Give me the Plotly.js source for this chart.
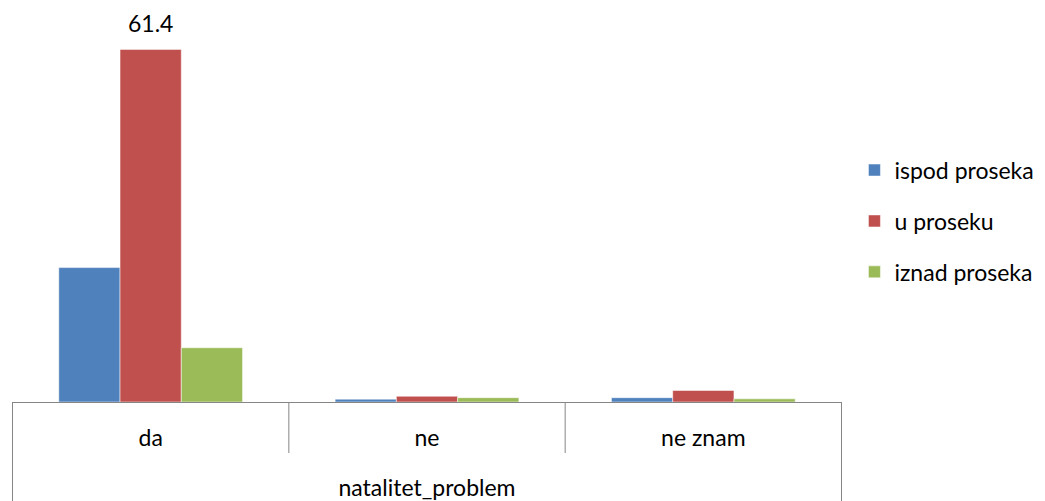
<!DOCTYPE html>
<html>
<head>
<meta charset="utf-8">
<script src="https://cdn.plot.ly/plotly-3.0.1.min.js"></script>
<style>html,body{margin:0;padding:0;background:#fff;}#chart{width:1045px;height:501px;}</style>
</head>
<body>
<div id="chart"></div>
<script>
const categories = ['da', 'ne', 'ne znam'];
const seriesNames = ['ispod proseka', 'u proseku', 'iznad proseka'];
const ispodProseka = [23.4, 0.5, 0.75];
const uProseku = [61.4, 1.0, 2.0];
const iznadProseka = [9.45, 0.75, 0.55];
const axisTitle = 'natalitet_problem';
const colors = ['#4F81BD', '#C0504D', '#9BBB59'];

const FONT = 'Lato, "Open Sans", sans-serif';
const FS = 23;
const values = [ispodProseka, uProseku, iznadProseka];
const traces = values.map((v, i) => ({
  type: 'bar', name: seriesNames[i], x: categories, y: v, legendgroup: 'g' + i,
  marker: {color: colors[i], line: {color: 'rgba(255,255,255,0.5)', width: 1}},
  hoverinfo: 'x+y+name'
}));

const maxIdx = uProseku.indexOf(Math.max(...uProseku));
const layout = {
  width: 1045, height: 501,
  margin: {l: 12, r: 203, t: 0, b: 99},
  paper_bgcolor: '#fff', plot_bgcolor: '#fff',
  barmode: 'group', bargap: 0.335, bargroupgap: 0,
  font: {family: FONT, size: FS, color: '#000'},
  showlegend: true,
  legend: {x: 1.015, y: 0.45, xanchor: 'left', yanchor: 'middle', font: {size: FS, family: FONT},
           itemwidth: 30, tracegroupgap: 18, bgcolor: 'rgba(0,0,0,0)'},
  xaxis: {
    type: 'category', showline: true, linecolor: '#868686', linewidth: 1,
    ticks: '', tickson: 'boundaries', showgrid: false, zeroline: false,
    ticklabelstandoff: 15, tickfont: {size: FS, family: FONT},
    title: {text: axisTitle, font: {size: FS, family: FONT}, standoff: 30}
  },
  yaxis: {range: [0, 70], visible: false, showgrid: false, zeroline: false},
  shapes: [
    ...[-0.5, 0.5, 1.5, 2.5].map(b => ({
      type: 'line', xref: 'x', yref: 'paper', x0: b, x1: b,
      y0: 0, y1: (b === -0.5 || b === 2.5) ? -99/402 : -51/402,
      line: {color: '#868686', width: 1}
    }))
  ],
  annotations: [{
    x: categories[maxIdx], y: uProseku[maxIdx], xref: 'x', yref: 'y',
    text: String(uProseku[maxIdx]), showarrow: false, yanchor: 'bottom',
    yshift: 10, font: {size: FS, family: FONT, color: '#000'}
  }]
};

Plotly.newPlot('chart', traces, layout, {displayModeBar: false, staticPlot: true});
</script>
</body>
</html>
